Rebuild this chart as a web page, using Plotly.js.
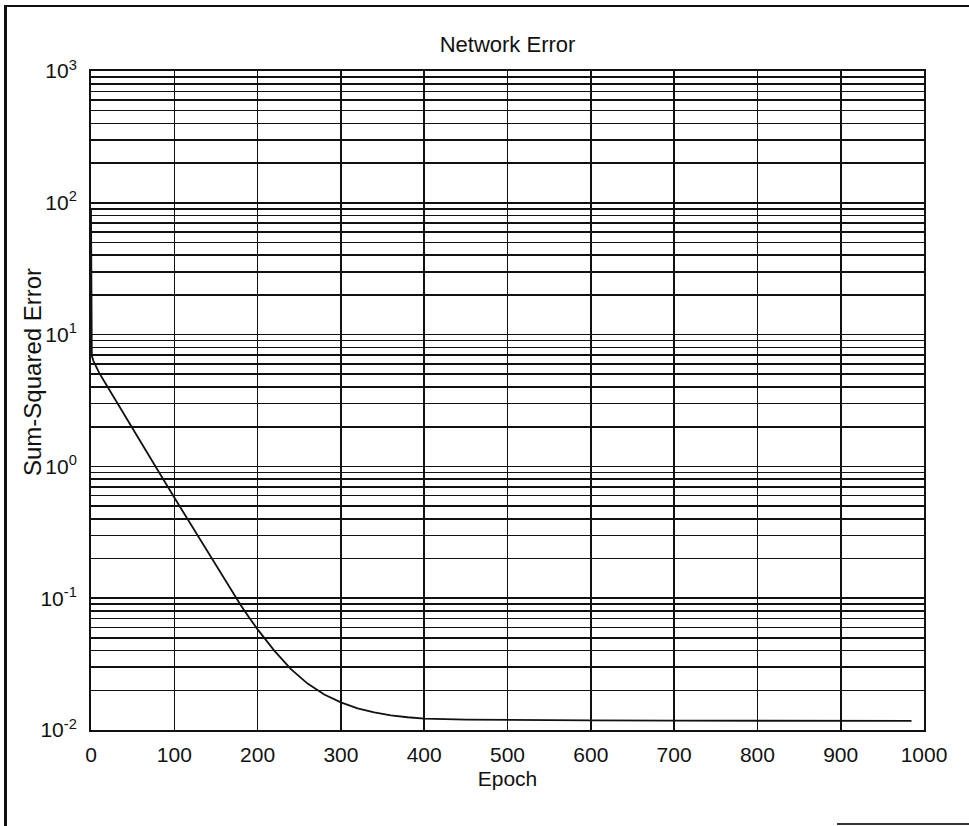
<!DOCTYPE html>
<html>
<head>
<meta charset="utf-8">
<script src="https://cdn.plot.ly/plotly-3.0.1.min.js"></script>
<style>
  html, body { margin: 0; padding: 0; background: #fff; }
  #frame { position: absolute; left: 4px; top: 5px; width: 965px; height: 821px; border-left: 3px solid #111; border-top: 2px solid #111; box-sizing: border-box; }
  #bottomline { position: absolute; left: 837px; top: 823px; width: 132px; height: 0; border-top: 2px solid #333; }
  #chart { position: absolute; left: 0; top: 0; width: 969px; height: 826px; }
</style>
</head>
<body>
<div id="frame"></div>
<div id="bottomline"></div>
<div id="chart"></div>
<script>
// Data
const epochs = [0, 1, 3, 10, 20, 40, 60, 80, 100, 120, 140, 160, 180, 190, 200, 220, 240, 260, 280, 300, 320, 340, 360, 380, 400, 450, 500, 600, 700, 800, 900, 985];
const sse    = [90, 6.9, 6.3, 5.1, 4.0, 2.45, 1.52, 0.94, 0.58, 0.36, 0.225, 0.14, 0.088, 0.071, 0.058, 0.04, 0.029, 0.0225, 0.0186, 0.0162, 0.0146, 0.0136, 0.0129, 0.0125, 0.0122, 0.0120, 0.0119, 0.01183, 0.01178, 0.01175, 0.01173, 0.01172];

const xTicks = [0, 100, 200, 300, 400, 500, 600, 700, 800, 900, 1000];
const yTickVals = [0.01, 0.1, 1, 10, 100, 1000];
const yTickText = ['10<sup>-2</sup>', '10<sup>-1</sup>', '10<sup>0</sup>', '10<sup>1</sup>', '10<sup>2</sup>', '10<sup>3</sup>'];
const yMinorMultipliers = [2, 3, 4, 5, 6, 7, 8, 9];
const titleText = 'Network Error';
const xLabel = 'Epoch';
const yLabel = 'Sum-Squared Error';

const yMinor = [];
yTickVals.slice(0, -1).forEach(d => yMinorMultipliers.forEach(m => yMinor.push(d * m)));

const fam = 'Liberation Sans, Arial, Helvetica, sans-serif';
const font = { family: fam, size: 21, color: '#111' };

Plotly.newPlot('chart', [{
  x: epochs, y: sse, type: 'scatter', mode: 'lines',
  line: { color: '#111', width: 1.8 }, hoverinfo: 'skip'
}], {
  width: 969, height: 826,
  margin: { l: 91, r: 45, t: 71, b: 96, pad: 0 },
  paper_bgcolor: 'rgba(0,0,0,0)', plot_bgcolor: '#fff',
  font: font,
  showlegend: false,
  title: { text: titleText, font: { family: fam, size: 22, color: '#111' }, x: 0.5, xref: 'paper', y: 1 - 44/826, yref: 'container', yanchor: 'middle' },
  annotations: [{
    text: yLabel, textangle: -90, showarrow: false,
    xref: 'paper', yref: 'paper', x: (32 - 91) / 833, y: (730 - 372) / 659,
    xanchor: 'center', yanchor: 'middle',
    font: { family: fam, size: 24, color: '#111' }
  }],
  xaxis: {
    range: [0, 1000], tickvals: xTicks, ticktext: xTicks.map(String),
    showgrid: true, gridcolor: '#111', gridwidth: 1.6,
    zeroline: false, showline: true, mirror: true, linecolor: '#111', linewidth: 2,
    ticks: '', ticklabelstandoff: 5, tickfont: font,
    title: { text: xLabel, font: font, standoff: 6 }
  },
  yaxis: {
    type: 'log', range: [-2, 3], tickvals: yTickVals, ticktext: yTickText,
    showgrid: true, gridcolor: '#111', gridwidth: 1.6,
    minor: { tickmode: 'array', tickvals: yMinor, showgrid: true, gridcolor: '#111', gridwidth: 1.6, ticks: '' },
    zeroline: false, showline: true, mirror: true, linecolor: '#111', linewidth: 2,
    ticks: '', ticklabelstandoff: 8, tickfont: font
  }
}, { staticPlot: true });
</script>
</body>
</html>
